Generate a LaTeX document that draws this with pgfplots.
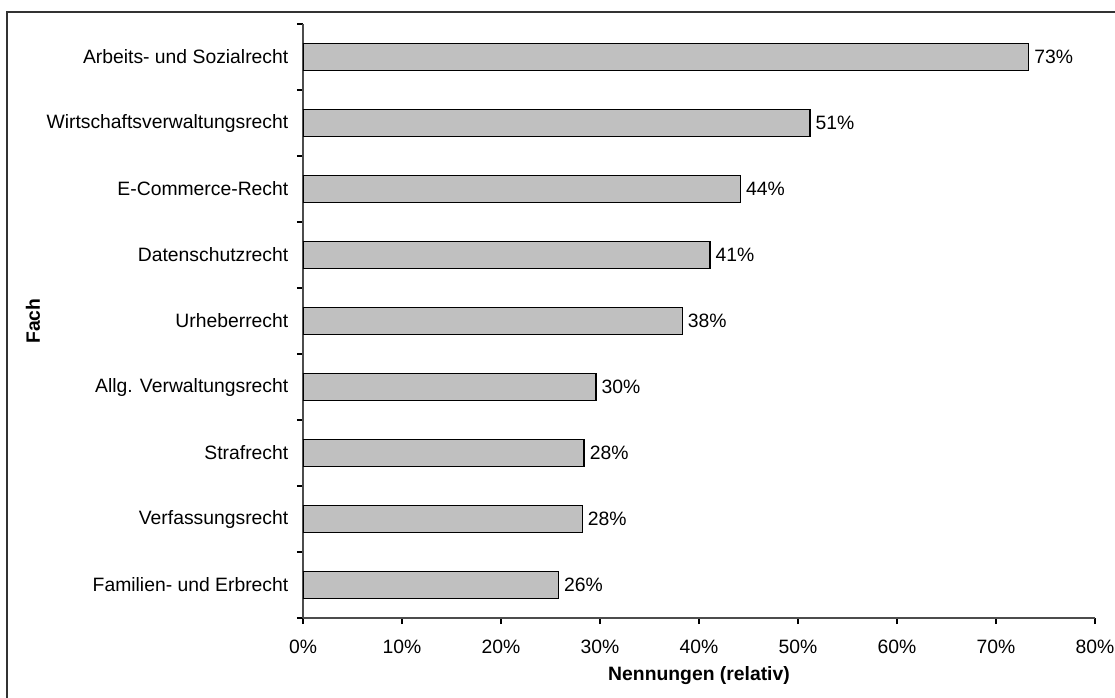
\documentclass[border=0pt]{standalone}
\usepackage{pgfplots}
\pgfplotsset{compat=1.18}
\usepackage{fontspec}
\setmainfont{Liberation Sans}

\newcommand{\chartfont}{\fontsize{14.5}{17.4}\selectfont}

\begin{document}
\begin{tikzpicture}[x=1pt,y=1pt]
\useasboundingbox (0,0) rectangle (836.25,522.75);
% outer frame (top and left edges)
\draw[line width=1.5pt, black!80] (5.25,-2) -- (5.25,513.75) -- (840,513.75);
\begin{axis}[
  at={(227.25pt,59.25pt)}, anchor=south west,
  scale only axis, width=594pt, height=445.5pt,
  xbar, bar width=20.25pt,
  xmin=0, xmax=80, ymin=-0.5, ymax=8.5,
  y dir=reverse,
  axis lines*=left,
  axis line style={black!70, line width=0.8pt},
  tick align=outside,
  major tick length=4.5pt, minor tick length=4.5pt,
  tick style={black, line width=0.8pt},
  xtick={0,10,...,80},
  xticklabel={\pgfmathprintnumber{\tick}\%},
  /pgf/number format/assume math mode=true,
  x tick label style={font=\chartfont, anchor=center, yshift=-17.5pt},
  ytick={0,...,8},
  yticklabels={Arbeits- und Sozialrecht, Wirtschaftsverwaltungsrecht, E-Commerce-Recht, Datenschutzrecht, Urheberrecht, Allg. Verwaltungsrecht, Strafrecht, Verfassungsrecht, Familien- und Erbrecht},
  major y tick style={draw=none},
  minor ytick={-0.5,0.5,...,8.5},
  y tick label style={font=\chartfont, anchor=east, xshift=-3pt},
  xlabel={Nennungen (relativ)},
  ylabel={Fach},
  xlabel style={font=\chartfont\bfseries, at={(axis description cs:0.5,-0.0976)}, anchor=center},
  ylabel style={font=\chartfont\bfseries, at={(axis description cs:-0.341,0.5)}, anchor=center, rotate=0},
  point meta=x,
  nodes near coords={\pgfmathprintnumber[fixed,precision=0]{\pgfplotspointmeta}\%},
  nodes near coords style={font=\chartfont, anchor=west, inner sep=0pt, xshift=3.75pt},
]
\addplot[fill={rgb,255:red,192;green,192;blue,192}, draw=black, line width=1pt] coordinates {
  (73.3,0) (51.2,1) (44.2,2) (41.1,3) (38.3,4) (29.6,5) (28.4,6) (28.2,7) (25.8,8)
};
\end{axis}
\end{tikzpicture}
\end{document}
